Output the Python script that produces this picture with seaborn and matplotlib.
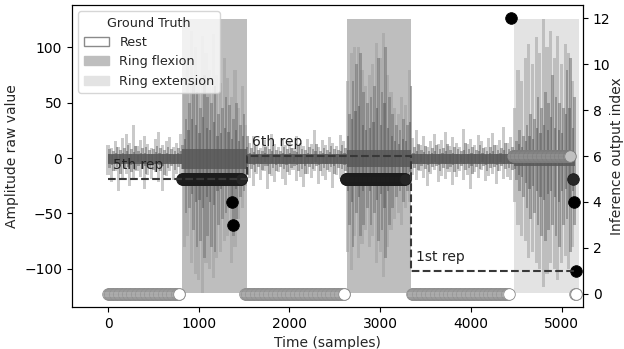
import numpy as np
import pandas as pd
import matplotlib
matplotlib.use("Agg")
import matplotlib.pyplot as plt
from matplotlib.patches import Patch
import seaborn as sns

# ---------------- data ----------------
bin_step = 40  # samples per signal bin

# upper peak of the light (outer) EMG spikes per bin
up_outer = [12, 9, 15, 10, 18, 22, 14, 30, 11, 16, 20, 13, 9, 17, 24, 12, 15, 19, 10, 14, 22,
            60, 85, 115, 100, 70, 110, 95, 80, 112, 75, 68, 90, 72, 55, 80, 45, 65, 30,
            14, 20, 12, 9, 16, 11, 22, 13, 10, 18, 12, 15, 9, 20, 14, 11, 17, 13, 25, 10, 16, 12, 19, 14, 11, 21, 15,
            70, 95, 100, 100, 80, 65, 75, 85, 104, 90, 113, 75, 60, 45, 40, 55, 48, 80,
            18, 25, 12, 20, 10, 15, 22, 13, 16, 24, 11, 19, 14, 10, 26, 13, 17, 12, 21, 15, 10, 18, 23, 12, 16, 28, 14, 19,
            45, 80, 70, 90, 103, 85, 109, 95, 126, 100, 115, 90, 110, 85, 103, 95, 70]
# upper peak of the darker (mid) spikes per bin
up_mid = [8, 6, 10, 7, 9, 12, 8, 11, 6, 9, 10, 7, 8, 11, 9, 7, 10, 8, 6, 9, 12,
          35, 50, 70, 60, 45, 75, 55, 50, 65, 40, 45, 55, 48, 35, 50, 30, 40, 20,
          9, 11, 7, 6, 10, 8, 12, 7, 6, 10, 8, 9, 6, 11, 8, 7, 10, 8, 13, 6, 9, 7, 11, 8, 7, 12, 9,
          40, 70, 85, 95, 60, 50, 55, 65, 90, 60, 100, 55, 40, 30, 25, 35, 30, 65,
          10, 13, 7, 11, 6, 9, 12, 8, 9, 13, 7, 10, 8, 6, 14, 8, 10, 7, 12, 9, 6, 10, 12, 7, 9, 14, 8, 10,
          15, 25, 20, 30, 40, 35, 55, 45, 60, 50, 75, 55, 50, 45, 80, 90, 55]
# lower (negative) peak of the light spikes per bin
lo_outer = [-15, -22, -12, -30, -18, -14, -25, -20, -12, -17, -28, -15, -19, -13, -22, -30, -16, -12, -20, -14, -18,
            -80, -70, -95, -105, -110, -122, -95, -100, -108, -90, -85, -75, -70, -95, -80, -55, -45, -25,
            -18, -25, -14, -20, -12, -28, -16, -22, -13, -19, -24, -15, -11, -21, -17, -26, -14, -18, -12, -23, -16, -20, -13, -27, -15, -19, -22,
            -85, -101, -70, -90, -78, -65, -80, -70, -95, -85, -107, -80, -65, -55, -50, -60, -45, -40,
            -15, -20, -12, -18, -25, -14, -11, -22, -16, -19, -13, -24, -17, -12, -20, -15, -28, -13, -18, -11, -21, -16, -14, -23, -12, -19, -17, -20,
            -40, -60, -70, -75, -90, -85, -95, -100, -116, -105, -95, -100, -110, -95, -88, -100, -80]
# lower peak of the darker spikes per bin
lo_mid = [-9, -12, -8, -14, -10, -8, -13, -11, -7, -10, -14, -9, -11, -8, -12, -15, -9, -7, -11, -8, -10,
          -50, -45, -65, -80, -75, -90, -70, -80, -85, -60, -55, -50, -45, -70, -55, -35, -30, -15,
          -10, -13, -8, -11, -7, -14, -9, -12, -8, -10, -13, -9, -7, -12, -10, -14, -8, -10, -7, -12, -9, -11, -8, -14, -9, -10, -12,
          -60, -80, -50, -70, -60, -45, -60, -50, -75, -65, -90, -60, -45, -35, -30, -40, -30, -25,
          -9, -11, -7, -10, -13, -8, -7, -12, -9, -10, -8, -13, -10, -7, -11, -9, -14, -8, -10, -7, -12, -9, -8, -12, -7, -10, -9, -11,
          -20, -30, -35, -45, -55, -50, -60, -70, -75, -65, -60, -70, -80, -60, -55, -85, -60]

# ground truth segments
gt_start = [0, 816, 1532, 2635, 3340, 4476]
gt_end = [816, 1532, 2635, 3340, 4476, 5193]
gt_label = ["Rest", "Ring flexion", "Rest", "Ring flexion", "Rest", "Ring extension"]
core_hi = [4, 8, 4, 7, 4, 5]
core_lo = [-5, -10, -5, -8, -5, -7]

# inference output (run-length encoded)
pred_start = [0, 815, 1363, 1381, 1510, 2620, 3350, 4440, 4466, 5127, 5138, 5150, 5160]
pred_end = [788, 1470, 1363, 1381, 2600, 3275, 4421, 4440, 5096, 5127, 5138, 5160, 5160]
pred_class = [0, 5, 4, 3, 0, 5, 0, 12, 6, 5, 4, 0, 1]

# repetition annotation
rep_x = [0, 1530, 1530, 3340, 3340, 5160]
rep_y = [5, 5, 6, 6, 1, 1]
rep_names = ["5th rep", "6th rep", "1st rep"]
rep_label_x = [0, 1530, 3340]
rep_label_y = [5, 6, 1]

# ---------------- style ----------------
sns.set_theme(style="ticks", rc={
    "xtick.major.size": 3.5, "ytick.major.size": 3.5,
    "xtick.major.width": 0.8, "ytick.major.width": 0.8,
    "xtick.major.pad": 3.5, "ytick.major.pad": 3.5,
    "axes.linewidth": 0.8, "axes.labelpad": 4.0,
})
plt.rcParams["font.family"] = ["DejaVu Sans"]
plt.rcParams["axes.edgecolor"] = "black"
plt.rcParams["xtick.color"] = "black"
plt.rcParams["ytick.color"] = "black"
plt.rcParams["font.size"] = 10

gt_colors = {"Rest": "white", "Ring flexion": "#bebebe", "Ring extension": "#e3e3e3"}
face = {0: "white", 5: "#262626", 6: "#c0c0c0"}
edge = {0: "#8a8a8a", 5: "#1c1c1c", 6: "#7a7a7a"}

fig = plt.figure(figsize=(6.24, 3.49), dpi=100)
ax1 = fig.add_axes([72 / 624, 1 - 307 / 349, (583 - 72) / 624, (307 - 5) / 349])
ax2 = ax1.twinx()

# ---------------- signal ----------------
up_outer_a = np.array(up_outer, float)
up_mid_a = np.array(up_mid, float)
lo_outer_a = np.array(lo_outer, float)
lo_mid_a = np.array(lo_mid, float)
xb = np.arange(len(up_outer)) * bin_step

ymin = min(lo_outer_a.min(), lo_mid_a.min())
ymax = max(up_outer_a.max(), up_mid_a.max())

for s, e, lab in zip(gt_start, gt_end, gt_label):
    ax1.fill_between([s, e], ymin, ymax, color=gt_colors[lab], lw=0, zorder=0)

ax1.bar(xb, up_outer_a, width=34, bottom=0, color="#a0a0a0", alpha=0.55, lw=0, zorder=1)
ax1.bar(xb, lo_outer_a, width=34, bottom=0, color="#a0a0a0", alpha=0.55, lw=0, zorder=1)
ax1.bar(xb + 20, up_mid_a, width=30, bottom=0, color="#777777", alpha=0.6, lw=0, zorder=2)
ax1.bar(xb + 20, lo_mid_a, width=30, bottom=0, color="#777777", alpha=0.6, lw=0, zorder=2)
ax1.bar(xb + 8, up_mid_a * 0.5, width=24, bottom=0, color="#5c5c5c", alpha=0.55, lw=0, zorder=2)
ax1.bar(xb + 8, lo_mid_a * 0.5, width=24, bottom=0, color="#5c5c5c", alpha=0.55, lw=0, zorder=2)

for s, e, hi, lo in zip(gt_start, gt_end, core_hi, core_lo):
    ax1.fill_between([s, min(e, xb[-1] + 30)], lo, hi, color="#585858", alpha=0.85, lw=0, zorder=3)

ax1.set_xlim(-397, 5237)
ax1.set_ylim(-134.5, 138.3)
ax1.set_xticks([0, 1000, 2000, 3000, 4000, 5000])
ax1.set_yticks([-100, -50, 0, 50, 100])
ax1.set_ylabel("Amplitude raw value", fontsize=10)
ax1.tick_params(labelsize=10)

handles = [Patch(facecolor=gt_colors[k], edgecolor="#8a8a8a" if k == "Rest" else gt_colors[k], label=k)
           for k in ["Rest", "Ring flexion", "Ring extension"]]
leg = ax1.legend(handles=handles, title="Ground Truth", loc="upper left", fontsize=9.2,
                 title_fontsize=9.2, framealpha=0.8, edgecolor="#cccccc", fancybox=True)

# ---------------- inference output ----------------
rows = []
for s, e, c in zip(pred_start, pred_end, pred_class):
    ts = np.append(np.arange(s, e, 9), e) if e > s else np.array([s])
    for t in ts:
        rows.append((t, c))
pred_df = pd.DataFrame(rows, columns=["t", "pred"])

for (s, e, c) in zip(pred_start, pred_end, pred_class):
    sub = pred_df[(pred_df.t >= s) & (pred_df.t <= e) & (pred_df.pred == c)]
    sns.scatterplot(data=sub, x="t", y="pred", ax=ax2, s=70,
                    color=face.get(c, "black"), edgecolor=edge.get(c, "black"),
                    linewidth=0.6, zorder=4, legend=False)

rep_df = pd.DataFrame({"x": rep_x, "y": rep_y})
sns.lineplot(data=rep_df, x="x", y="y", ax=ax2, sort=False, estimator=None,
             color="#383838", lw=1.5, linestyle="--", zorder=5)
for name, lx, ly in zip(rep_names, rep_label_x, rep_label_y):
    ax2.text(lx + 55, ly + 0.3, name, fontsize=10, va="bottom", ha="left", color="#222222")

ax2.set_ylim(-0.58, 12.58)
ax2.set_yticks([0, 2, 4, 6, 8, 10, 12])
ax2.set_ylabel("Inference output index", fontsize=10)
ax2.yaxis.set_label_coords(1.052, 0.5)
ax2.set_xlabel("")
ax2.tick_params(labelsize=10)
ax1.set_xlabel("Time (samples)", fontsize=10)

fig.savefig("out.png", dpi=100)
